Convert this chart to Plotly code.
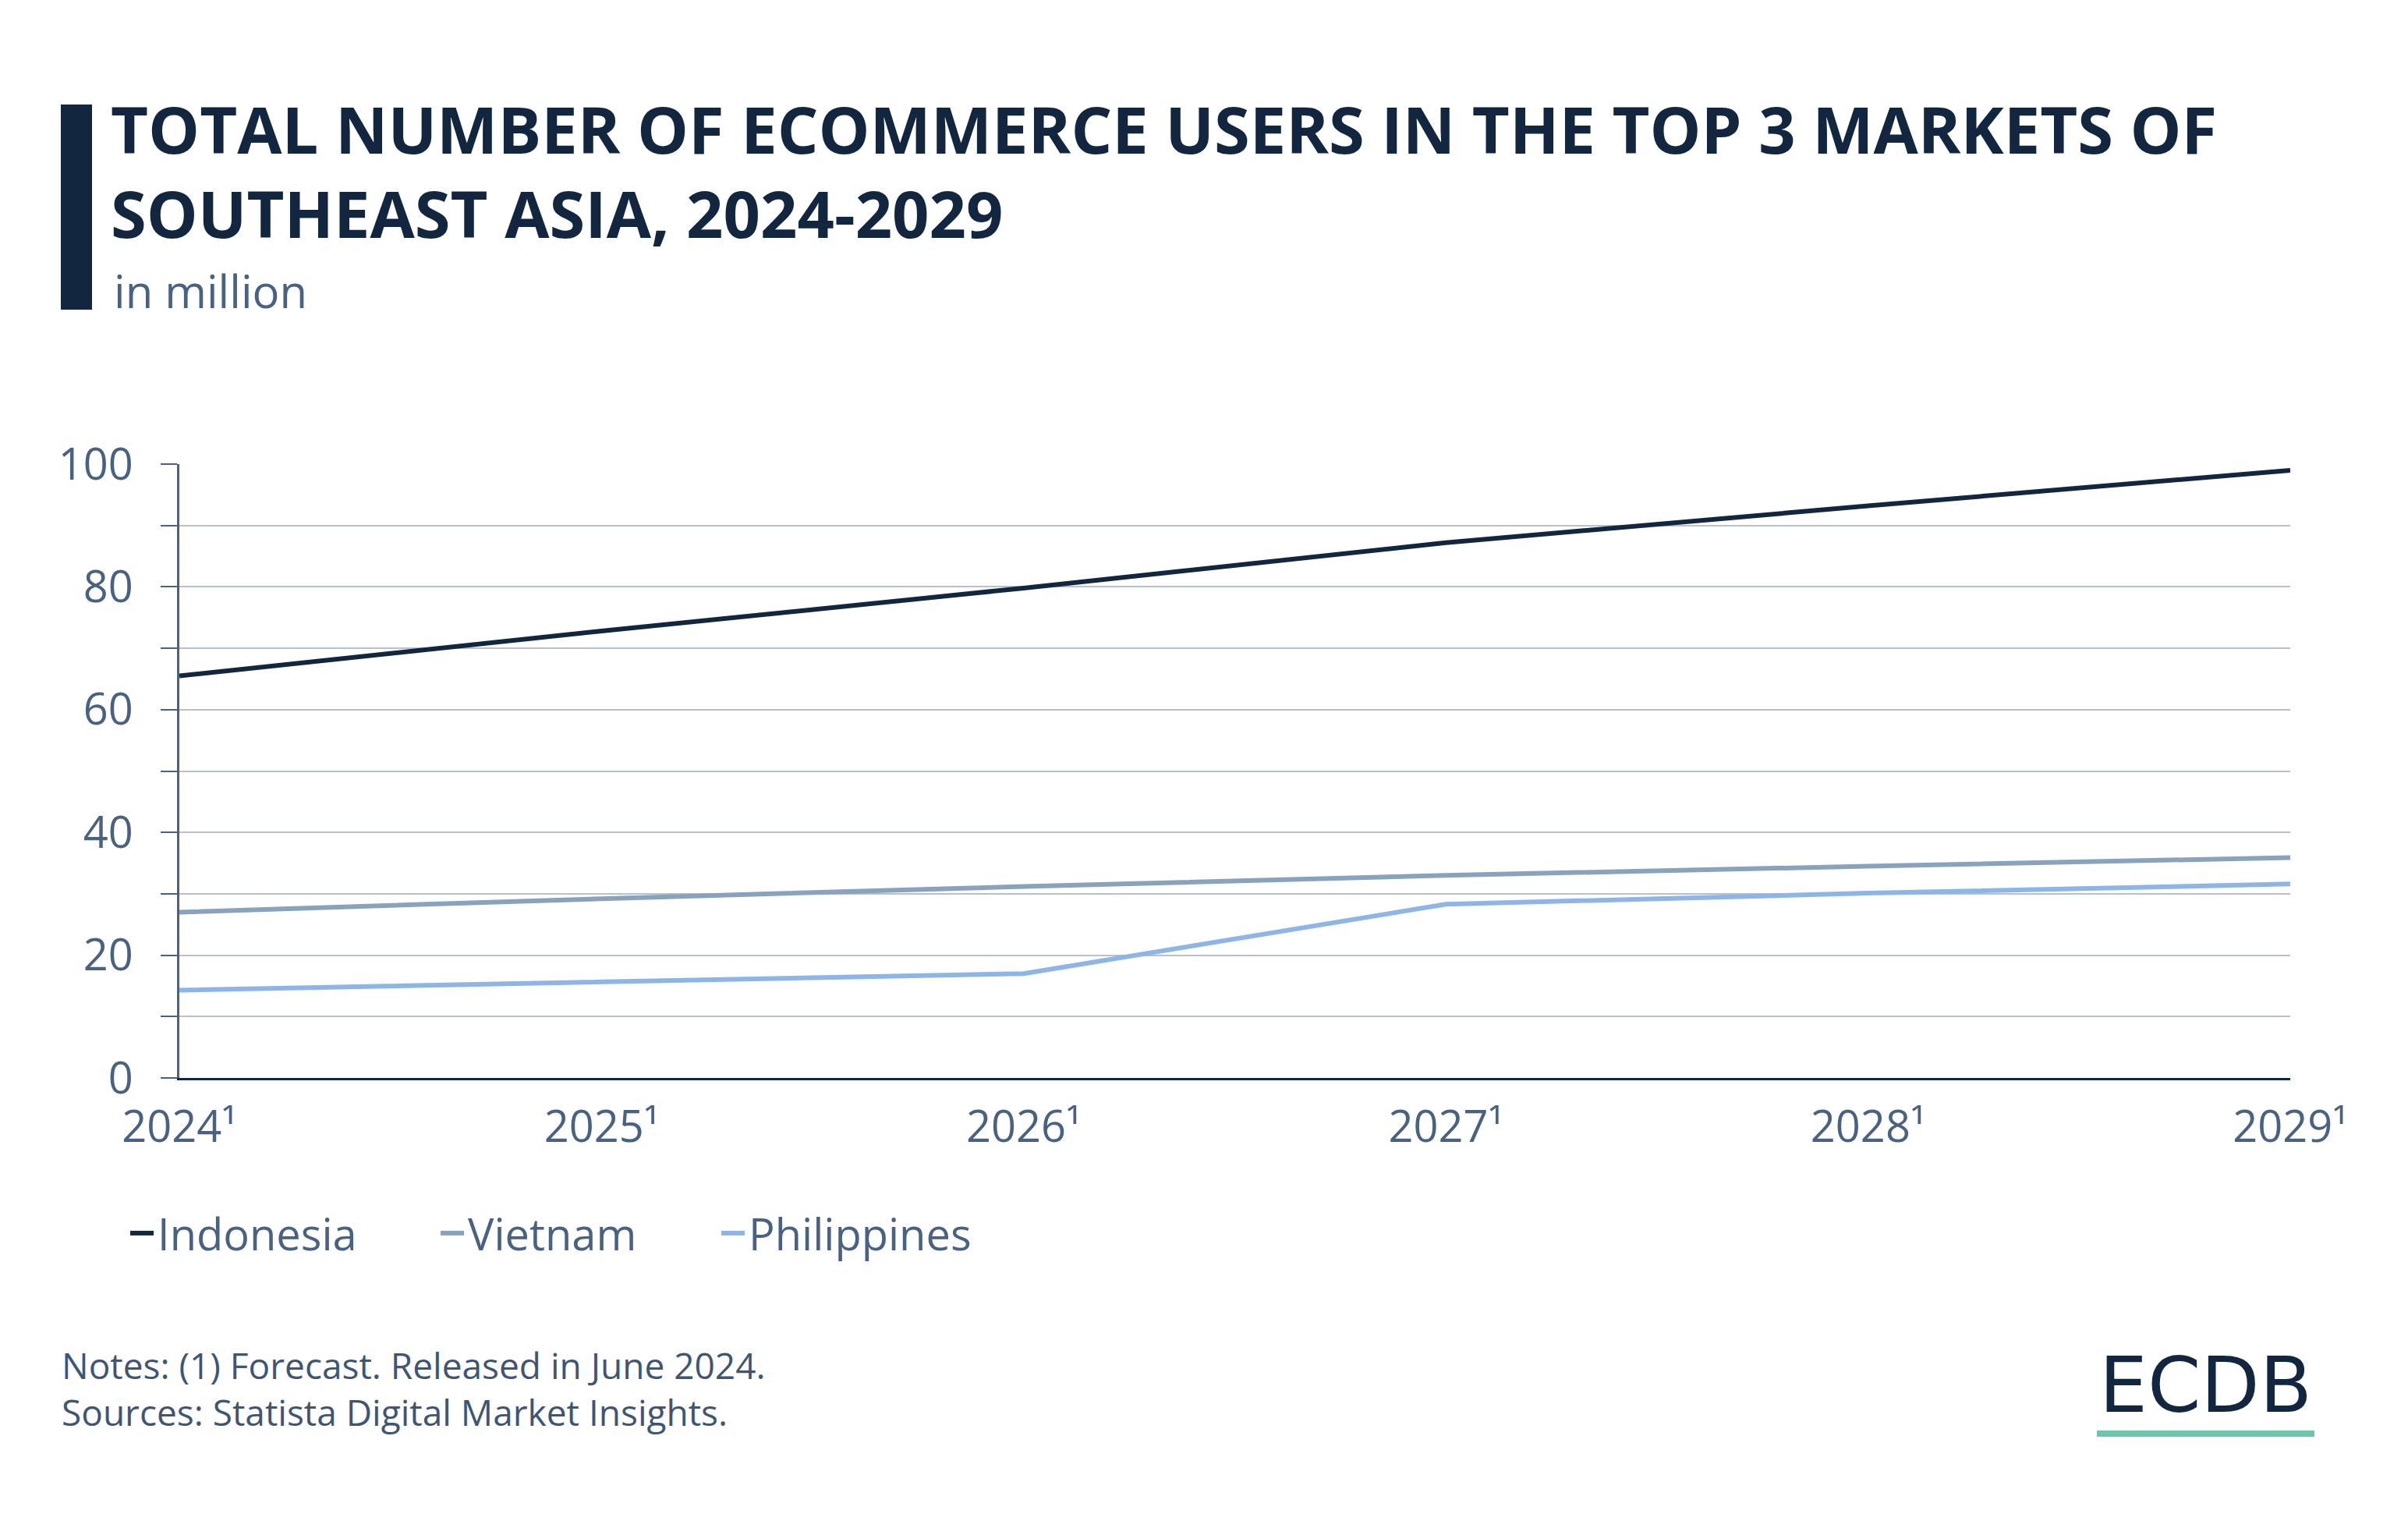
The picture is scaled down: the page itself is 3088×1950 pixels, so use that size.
import plotly.graph_objects as go

# ---- data ----
years = [2024, 2025, 2026, 2027, 2028, 2029]
year_labels = ["2024¹", "2025¹", "2026¹", "2027¹", "2028¹", "2029¹"]
indonesia = [65.5, 72.8, 79.8, 87.2, 93.2, 99.0]
vietnam = [27.0, 29.2, 31.2, 33.0, 34.5, 35.9]
philippines = [14.3, 15.6, 17.0, 28.3, 30.1, 31.6]
y_tick_vals = [0, 10, 20, 30, 40, 50, 60, 70, 80, 90, 100]
y_tick_text = ["0", "", "20", "", "40", "", "60", "", "80", "", "100"]

# ---- layout geometry (page pixels; the html body adds an 8px margin) ----
OFF = 8
W, H = 3088 - OFF, 1950 - OFF
L, R, T, B = 230, 2937, 595, 1382
PW, PH = R - L, B - T


def px(x):
    return (x - L) / PW


def py(y):
    return (B - y) / PH


NAVY = "#13263f"
SLATE = "#4a6282"
FONT = "Open Sans"

fig = go.Figure()
series = [
    ("Indonesia", indonesia, "#13263f", "legend"),
    ("Vietnam", vietnam, "#89a2bd", "legend2"),
    ("Philippines", philippines, "#8db5e6", "legend3"),
]
for name, vals, col, leg in series:
    fig.add_trace(go.Scatter(
        x=years, y=vals, name=name, mode="lines",
        line=dict(color=col, width=6),
        legend=leg,
    ))

leg_common = dict(orientation="h", bgcolor="rgba(0,0,0,0)",
                  font=dict(family=FONT, size=56, color=SLATE),
                  yanchor="middle", xanchor="left", itemwidth=30,
                  borderwidth=0)

fig.update_layout(
    width=W, height=H,
    margin=dict(l=L - OFF, r=W - (R - OFF), t=T - OFF, b=H - (B - OFF),
                autoexpand=False),
    paper_bgcolor="white", plot_bgcolor="white",
    showlegend=True,
    legend=dict(x=px(162), y=py(1581), **leg_common),
    legend2=dict(x=px(560), y=py(1581), **leg_common),
    legend3=dict(x=px(920), y=py(1581), **leg_common),
    xaxis=dict(
        range=[2024, 2029], tickvals=years, ticktext=year_labels,
        showgrid=False, zeroline=False,
        showline=True, linecolor=NAVY, linewidth=3,
        ticks="", tickfont=dict(family=FONT, size=56, color=SLATE),
        ticklabelstandoff=12,
    ),
    yaxis=dict(
        range=[0, 100], tickvals=y_tick_vals, ticktext=y_tick_text,
        showgrid=True, gridcolor="#b8c1cd", gridwidth=1.5,
        zeroline=False, showline=True, linecolor=SLATE, linewidth=3,
        ticks="outside", ticklen=21, tickwidth=2, tickcolor=SLATE,
        tickfont=dict(family=FONT, size=56, color=SLATE),
        ticklabelstandoff=24,
    ),
)

# title bar
fig.add_shape(type="rect", xref="paper", yref="paper",
              x0=px(78), x1=px(118), y0=py(397), y1=py(134),
              fillcolor=NAVY, line=dict(width=0))

annos = [
    dict(text="<b>TOTAL NUMBER OF ECOMMERCE USERS IN THE TOP 3 MARKETS OF</b>"
              "<br><b>SOUTHEAST ASIA, 2024-2029</b>",
         x=px(140), y=py(218), size=83, color=NAVY),
    dict(text="in million", x=px(144), y=py(372), size=58, color=SLATE),
    dict(text="Notes: (1) Forecast. Released in June 2024.<br>"
              "Sources: Statista Digital Market Insights.",
         x=px(77), y=py(1780), size=46, color="#3f5574"),
]
for a in annos:
    fig.add_annotation(text=a["text"], xref="paper", yref="paper",
                       x=a["x"], y=a["y"], xanchor="left", yanchor="middle",
                       align="left", showarrow=False,
                       font=dict(family=FONT, size=a["size"], color=a["color"]))

# logo
fig.add_annotation(text="ECDB", xref="paper", yref="paper",
                   x=px(2828), y=py(1776), xanchor="center", yanchor="middle",
                   showarrow=False,
                   font=dict(family="DejaVu Sans", size=98, color=NAVY))
fig.add_shape(type="rect", xref="paper", yref="paper",
              x0=px(2689), x1=px(2968), y0=py(1842), y1=py(1834),
              fillcolor="#6cc5ae", line=dict(width=0))

fig.write_html("out.html")
